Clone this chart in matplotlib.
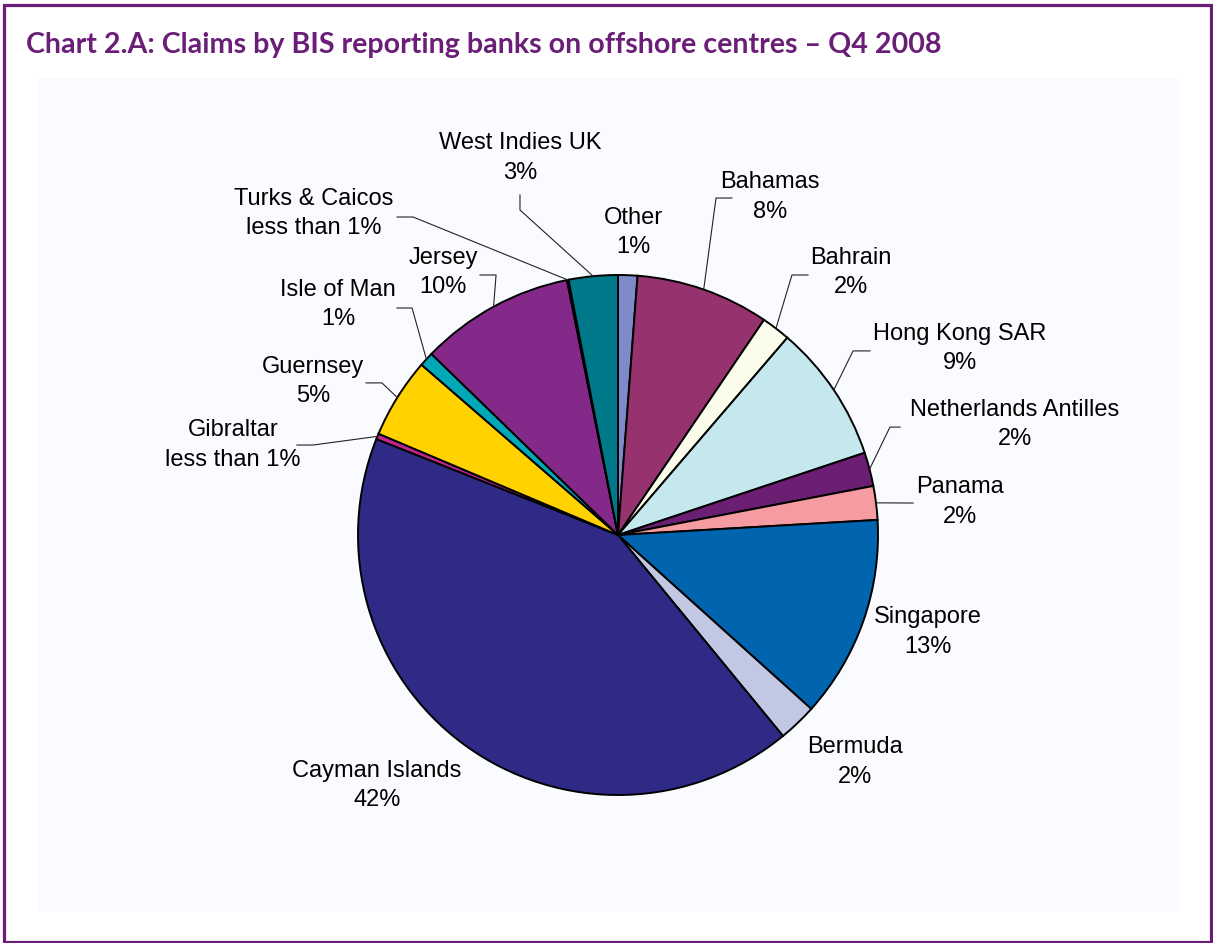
import numpy as np
import matplotlib.pyplot as plt
from matplotlib.patches import Rectangle

# Claims on offshore centres, share of total (per cent), clockwise from 12 o'clock
centres = ["Other", "Bahamas", "Bahrain", "Hong Kong SAR", "Netherlands Antilles",
           "Panama", "Singapore", "Bermuda", "Cayman Islands", "Gibraltar",
           "Guernsey", "Isle of Man", "Jersey", "Turks & Caicos", "West Indies UK"]
shares = [1.2, 8.3, 1.8, 8.6, 2.1, 2.1, 12.6, 2.4, 42.0, 0.35, 5.0, 0.9, 9.6, 0.1, 3.05]
colors = ["#7F8BC8", "#96336F", "#FCFCEC", "#C5E8EE", "#6B1F72", "#F49CA2", "#0064AF",
          "#C0C8E4", "#2E2A86", "#C2268C", "#FFD200", "#00A8B8", "#84288A", "#E87722",
          "#007A8A"]

# label centres and leader line points, in units of the pie radius
label_pos = [(0.058, 1.162), (0.585, 1.30), (0.896, 1.008), (1.315, 0.718), (1.527, 0.426),
             (1.315, 0.127), (1.192, -0.373), (0.912, -0.873), (-0.927, -0.962),
             (-1.481, 0.346), (-1.173, 0.592), (-1.077, 0.885), (-0.673, 1.008),
             (-1.169, 1.235), (-0.377, 1.45)]
leaders = [None, [(0.438, 1.296), (0.377, 1.296)], [(0.731, 1.0), (0.669, 1.0)],
           [(0.969, 0.708), (0.904, 0.708)], [(1.085, 0.415), (1.046, 0.415)],
           [(1.135, 0.123)], None, None, None,
           [(-1.235, 0.346), (-1.173, 0.346)], [(-0.969, 0.585), (-0.908, 0.585)],
           [(-0.850, 0.873), (-0.792, 0.873)], [(-0.531, 1.0), (-0.469, 1.0)],
           [(-0.850, 1.223), (-0.788, 1.223)], [(-0.377, 1.308), (-0.377, 1.25)]]

W, H = 1213, 943
purple = "#6B1E78"
cx, cy, r = 618, H - 535, 260

fig = plt.figure(figsize=(W / 100, H / 100), dpi=100)
ax = fig.add_axes([0, 0, 1, 1])

ax.add_patch(Rectangle((37, 31), 1143, 834, facecolor="#FAFBFE", edgecolor="none", zorder=0))
ax.add_patch(Rectangle((3.5, 1.5), 1207.5, 937, facecolor="none", edgecolor=purple,
                       linewidth=2.3, zorder=5))

ax.text(26, H - 53, "Chart 2.A: Claims by BIS reporting banks on offshore centres \u2013 Q4 2008",
        fontsize=20.6, fontweight="bold", color=purple, family="Lato", va="baseline")

wedges, _ = ax.pie(shares, colors=colors, startangle=90, counterclock=False,
                   center=(cx, cy), radius=r, frame=True,
                   wedgeprops=dict(edgecolor="black", linewidth=1.4))
ax.set_xlim(0, W)
ax.set_ylim(0, H)
ax.set_aspect("equal")
ax.axis("off")

total = sum(shares)
for w, name, v, (lx, ly), pts in zip(wedges, centres, shares, label_pos, leaders):
    pct = v / total * 100
    txt = "less than 1%" if pct < 0.5 else f"{pct:.0f}%"
    ax.text(cx + lx * r, cy + ly * r, f"{name}\n{txt}", ha="center", va="center",
            fontsize=17, family="Liberation Sans", linespacing=1.42, color="black")
    if pts:
        mid = np.deg2rad((w.theta1 + w.theta2) / 2)
        xs = [cx + px * r for px, py in pts] + [cx + r * np.cos(mid)]
        ys = [cy + py * r for px, py in pts] + [cy + r * np.sin(mid)]
        ax.plot(xs, ys, color="#222222", linewidth=0.8)

fig.savefig("out.png", dpi=100)
